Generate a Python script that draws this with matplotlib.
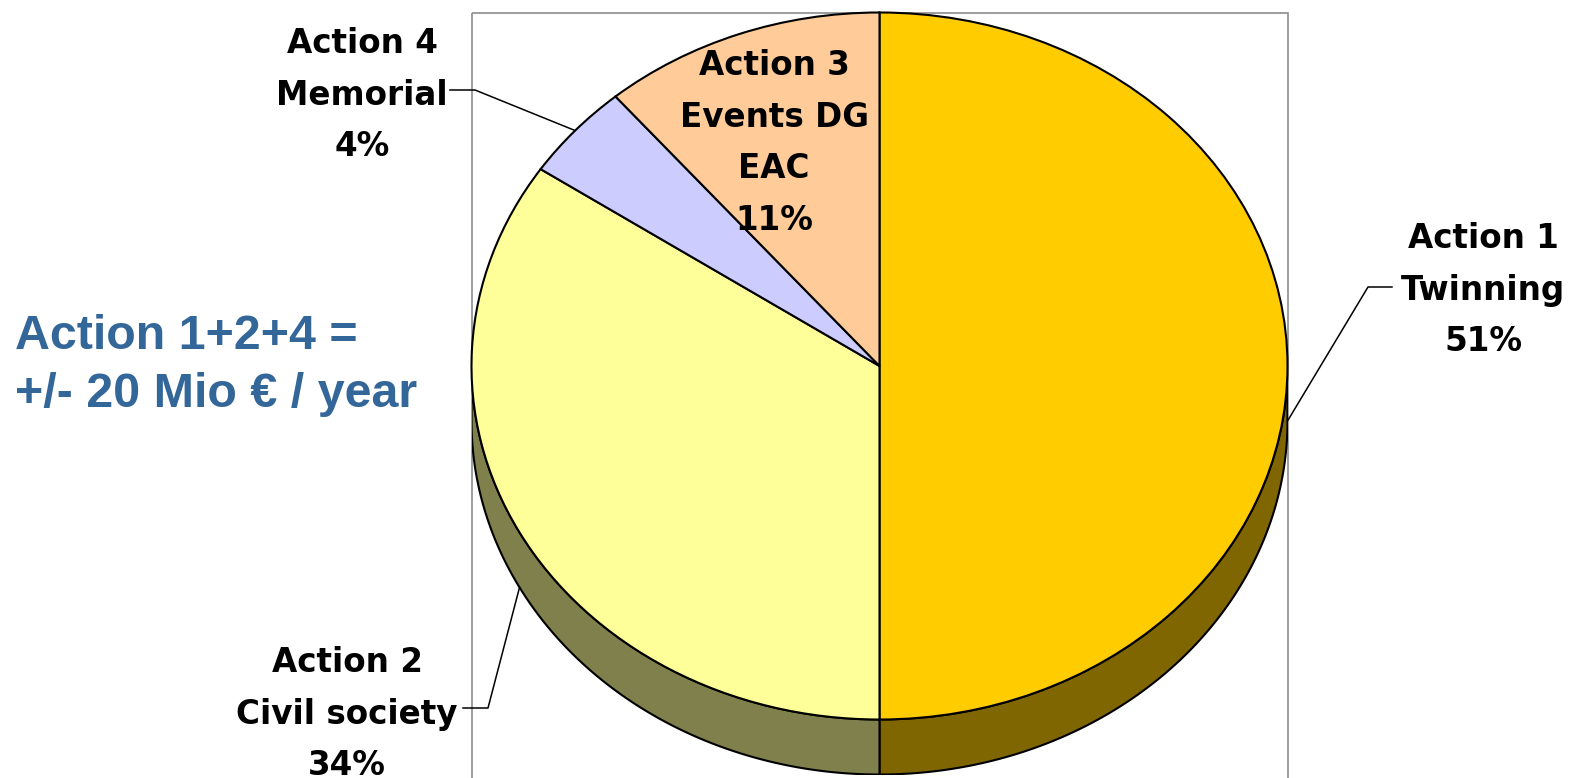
import numpy as np
import matplotlib.pyplot as plt
from matplotlib.patches import Polygon, Rectangle

# slices, clockwise from 12 o'clock
names = ['Action 1\nTwinning', 'Action 2\nCivil society', 'Action 4\nMemorial',
         'Action 3\nEvents DG\nEAC']
shares = [50.0, 34.4, 4.4, 11.2]      # slice sizes as drawn
percent = [51, 34, 4, 11]             # percentages printed on the labels
colors = ['#FFCC00', '#FFFF99', '#CCCCFF', '#FFCC99']

note = ['Action 1+2+4 =', '+/- 20 Mio \u20ac / year']

W, H = 1575, 778
fig = plt.figure(figsize=(W / 100, H / 100), dpi=100)

# background axes in pixel coordinates (plot-area frame)
bg = fig.add_axes([0, 0, 1, 1])
bg.set_xlim(0, W)
bg.set_ylim(H, 0)
bg.axis('off')
bg.add_patch(Rectangle((472, 13), 816, 800, fill=False, ec='#8c8c8c', lw=1.2))

# pie axes: ellipse top face plus extruded side
cx, cy, rx, ry, depth = 879.5, 366, 408, 353.5, 55
pie_ax = fig.add_axes([(cx - rx) / W, (H - (cy + ry + depth)) / H,
                       2 * rx / W, (2 * ry + depth) / H])
wedges, _ = pie_ax.pie(shares, colors=colors, startangle=90, counterclock=False,
                       wedgeprops=dict(edgecolor='black', linewidth=1.5))
d = depth / ry
pie_ax.set_aspect('auto')
pie_ax.set_xlim(-1, 1)
pie_ax.set_ylim(-1 - d, 1)
pie_ax.axis('off')

for w, c in zip(wedges, colors):
    side = tuple(0.5 * v for v in plt.matplotlib.colors.to_rgb(c))
    for k in range(-2, 3):
        lo = max(w.theta1, -180 + 360 * k)
        hi = min(w.theta2, 360 * k)
        if hi <= lo:
            continue
        t = np.radians(np.linspace(lo, hi, 200))
        xs = np.concatenate([np.cos(t), np.cos(t[::-1])])
        ys = np.concatenate([np.sin(t), np.sin(t[::-1]) - d])
        pie_ax.add_patch(Polygon(np.column_stack([xs, ys]), closed=True, fc=side,
                                 ec='black', lw=1.5, zorder=0.5))

# foreground axes in pixel coordinates for labels and leader lines
fg = fig.add_axes([0, 0, 1, 1])
fg.set_xlim(0, W)
fg.set_ylim(H, 0)
fg.axis('off')

label_pos = [(1483, 248), (347, 672), (362, 53), (774, 75)]
elbows = [((1368, 287), (1392, 287)), ((488, 708), (463, 708)),
          ((475, 90), (450, 90)), None]
line_step = 51.7

for w, name, p, (lx, ly), elb in zip(wedges, names, percent, label_pos, elbows):
    lines = name.split('\n') + [f'{p}%']
    for j, s in enumerate(lines):
        fg.text(lx, ly + j * line_step, s, ha='center', va='baseline',
                fontsize=23.5, fontweight='bold', family='DejaVu Sans', color='black')
    if elb is None:
        continue
    mid = np.radians((w.theta1 + w.theta2) / 2)
    px, py = np.cos(mid), np.sin(mid)
    if py <= 1e-6:
        py -= d
    disp = pie_ax.transData.transform((px, py))
    sx, sy = fg.transData.inverted().transform(disp)
    fg.plot([sx, elb[0][0], elb[1][0]], [sy, elb[0][1], elb[1][1]],
            color='black', lw=1.1)

for j, s in enumerate(note):
    fg.text(15, 349 + j * 58, s, ha='left', va='baseline', fontsize=34.8,
            fontweight='bold', family='Liberation Sans', color='#336699')

fig.savefig('out.png', dpi=100)
